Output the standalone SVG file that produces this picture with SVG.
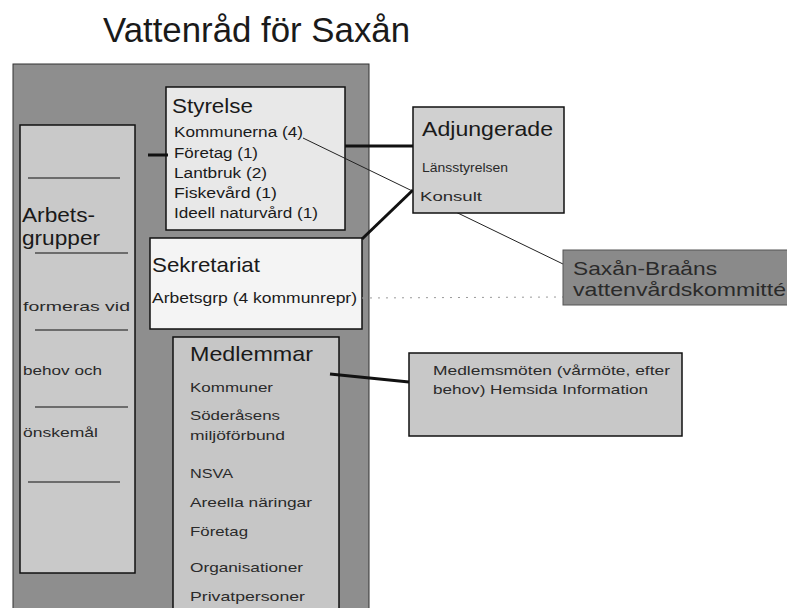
<svg xmlns="http://www.w3.org/2000/svg" width="787" height="608" viewBox="0 0 787 608">
<style>
text{font-family:"Liberation Sans",Arial,sans-serif;fill:#1a1a1a}
.box{stroke:#111;stroke-width:1.5}
.h{font-size:21px}
.s{font-size:14px}
.m{font-size:13.5px;fill:#2a2a2a}
.sep{stroke:#111;stroke-width:1.2}
.thick{stroke:#111;stroke-width:3;fill:none}
</style>
<rect width="787" height="608" fill="#fff"/>
<text x="103" y="42" style="font-size:35px" textLength="307" lengthAdjust="spacingAndGlyphs">Vattenråd för Saxån</text>
<g id="vattenrad">
<rect x="13" y="64" width="356" height="560" fill="#8e8e8e" stroke="#333" stroke-width="1"/>
</g>
<g id="arbetsgrupper">
<rect x="20" y="125" width="115" height="448" fill="#c9c9c9" class="box"/>
<line x1="28" y1="178" x2="120" y2="178" class="sep"/>
<line x1="35" y1="253" x2="128" y2="253" class="sep"/>
<line x1="35" y1="330" x2="128" y2="330" class="sep"/>
<line x1="35" y1="407" x2="128" y2="407" class="sep"/>
<line x1="28" y1="482" x2="120" y2="482" class="sep"/>
<text x="22" y="222" style="font-size:20px" textLength="73" lengthAdjust="spacingAndGlyphs">Arbets-</text>
<text x="22" y="245" style="font-size:20px" textLength="78" lengthAdjust="spacingAndGlyphs">grupper</text>
<text x="23" y="311" class="m" textLength="107" lengthAdjust="spacingAndGlyphs">formeras vid</text>
<text x="23" y="375" class="m" textLength="79" lengthAdjust="spacingAndGlyphs">behov och</text>
<text x="23" y="437" class="m" textLength="75" lengthAdjust="spacingAndGlyphs">önskemål</text>
</g>
<g id="styrelse">
<rect x="166" y="87" width="179" height="143" fill="#e8e8e8" class="box"/>
<text x="172" y="113" class="h" textLength="81" lengthAdjust="spacingAndGlyphs">Styrelse</text>
<text x="174" y="137" class="s" textLength="129" lengthAdjust="spacingAndGlyphs">Kommunerna (4)</text>
<text x="174" y="158" class="s" textLength="84" lengthAdjust="spacingAndGlyphs">Företag (1)</text>
<text x="174" y="178" class="s" textLength="93" lengthAdjust="spacingAndGlyphs">Lantbruk (2)</text>
<text x="174" y="198" class="s" textLength="103" lengthAdjust="spacingAndGlyphs">Fiskevård (1)</text>
<text x="174" y="218" class="s" textLength="144" lengthAdjust="spacingAndGlyphs">Ideell naturvård (1)</text>
</g>
<g id="sekretariat">
<rect x="150" y="238" width="212" height="91" fill="#f4f4f4" class="box"/>
<text x="152" y="272" class="h" textLength="108" lengthAdjust="spacingAndGlyphs">Sekretariat</text>
<text x="152" y="303" class="s" textLength="205" lengthAdjust="spacingAndGlyphs">Arbetsgrp (4 kommunrepr)</text>
</g>
<g id="medlemmar">
<rect x="173" y="337" width="166" height="290" fill="#c6c6c6" class="box"/>
<text x="190" y="361" style="font-size:21px" textLength="123" lengthAdjust="spacingAndGlyphs">Medlemmar</text>
<text x="190" y="392" class="m" textLength="83" lengthAdjust="spacingAndGlyphs">Kommuner</text>
<text x="190" y="420" class="m" textLength="90" lengthAdjust="spacingAndGlyphs">Söderåsens</text>
<text x="190" y="440" class="m" textLength="95" lengthAdjust="spacingAndGlyphs">miljöförbund</text>
<text x="190" y="478" class="m" textLength="43" lengthAdjust="spacingAndGlyphs">NSVA</text>
<text x="190" y="507" class="m" textLength="122" lengthAdjust="spacingAndGlyphs">Areella näringar</text>
<text x="190" y="536" class="m" textLength="58" lengthAdjust="spacingAndGlyphs">Företag</text>
<text x="190" y="572" class="m" textLength="113" lengthAdjust="spacingAndGlyphs">Organisationer</text>
<text x="190" y="601" class="m" textLength="115" lengthAdjust="spacingAndGlyphs">Privatpersoner</text>
</g>
<g id="connectors">
<line x1="303" y1="138" x2="563" y2="264" stroke="#222" stroke-width="1"/>
<line x1="345" y1="146" x2="413" y2="146" class="thick"/>
<line x1="362" y1="239" x2="413" y2="190" class="thick"/>
<line x1="148" y1="155" x2="168" y2="155" class="thick"/>
<line x1="330" y1="374" x2="409" y2="382" class="thick"/>
<line x1="362" y1="298" x2="563" y2="297" stroke="#999" stroke-width="1" stroke-dasharray="2 6"/>
</g>
<g id="adjungerade">
<rect x="413" y="107" width="151" height="106" fill="#d0d0d0" class="box"/>
<text x="422" y="136" class="h" textLength="131" lengthAdjust="spacingAndGlyphs">Adjungerade</text>
<text x="422" y="172" class="m" textLength="86" lengthAdjust="spacingAndGlyphs">Länsstyrelsen</text>
<text x="420" y="201" class="m" textLength="62" lengthAdjust="spacingAndGlyphs">Konsult</text>
</g>
<g id="saxan">
<rect x="563" y="250" width="230" height="55" fill="#8a8a8a" stroke="#555" stroke-width="1"/>
<text x="573" y="275" style="font-size:19px;fill:#2a2a2a" textLength="144" lengthAdjust="spacingAndGlyphs">Saxån-Braåns</text>
<text x="573" y="296" style="font-size:19px;fill:#2a2a2a" textLength="213" lengthAdjust="spacingAndGlyphs">vattenvårdskommitté</text>
</g>
<g id="medlemsmoten">
<rect x="409" y="353" width="273" height="83" fill="#c8c8c8" class="box"/>
<text x="433" y="375" class="m" textLength="237" lengthAdjust="spacingAndGlyphs">Medlemsmöten (vårmöte, efter</text>
<text x="433" y="394" class="m" textLength="215" lengthAdjust="spacingAndGlyphs">behov) Hemsida Information</text>
</g>
</svg>
